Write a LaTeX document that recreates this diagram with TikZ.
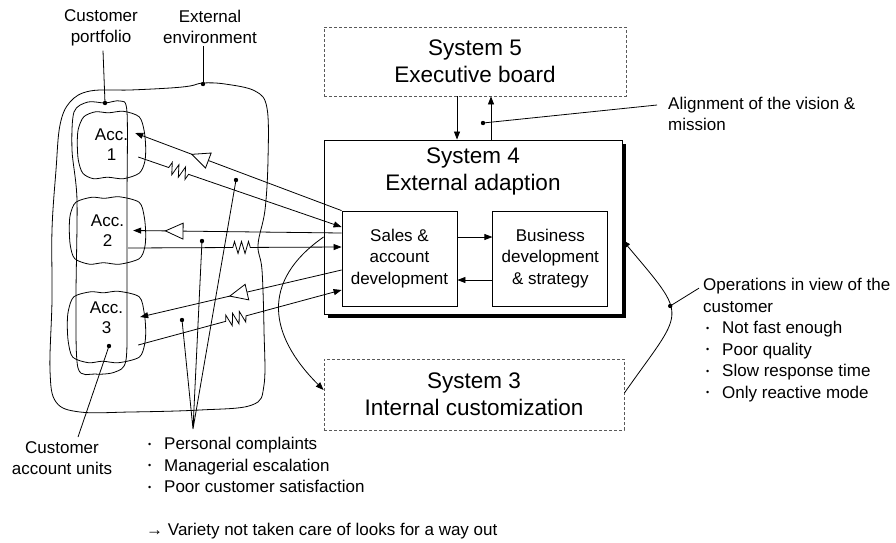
\documentclass[tikz,border=0pt]{standalone}
\usepackage{fontspec}
\setmainfont{Liberation Sans}
\usetikzlibrary{positioning, arrows.meta, calc, shadows, decorations.pathmorphing, decorations.markings}

\newcommand{\bul}{\makebox[19pt][l]{\hspace{3pt}\raisebox{2.5pt}{\fontsize{9}{9}\selectfont\textbullet}}}

\tikzset{
    txt/.style = {inner sep=0pt, align=center, font=\fontsize{17}{21.5}\selectfont},
    sysbox/.style = {
        draw=gray!70!black,
        dash pattern=on 3pt off 2pt,
        line width=0.8pt,
        align=center,
        font=\fontsize{22.5}{27}\selectfont
    },
    mainbox/.style = {draw, line width=0.9pt, fill=white,
        drop shadow={shadow xshift=4pt, shadow yshift=-4pt, fill=black, opacity=1}},
    innerbox/.style = {
        draw,
        line width=0.8pt,
        align=center,
        minimum width=115pt,
        minimum height=95pt,
        font=\fontsize{17}{21.5}\selectfont
    },
    accbox/.style = {
        align=center,
        minimum height=66pt,
        font=\fontsize{17}{20}\selectfont
    },
    blob/.style = {line width=0.8pt},
    lead/.style = {line width=0.8pt},
    arrow/.style = {-{Triangle[length=8pt, width=6pt]}, line width=0.8pt},
    fback/.style = {arrow, postaction={decorate},
        decoration={markings, mark=at position #1 with {\arrow{Triangle[length=19pt, width=17pt, fill=white]}}}},
    resist/.style = {decoration={zigzag, segment length=7pt, amplitude=6pt}}
}

\begin{document}
\begin{tikzpicture}[x=1pt, y=-1pt]
\useasboundingbox (0,0) rectangle (896,542);

% Labels on the left
\node[txt] (portlbl) at (101,28) {Customer\\portfolio};
\node[txt] (envlbl) at (210,27) {External\\environment};
\node[txt] (unitlbl) at (62,458) {Customer\\account units};

% External environment and customer portfolio
\draw[blob] plot[smooth cycle, tension=0.6] coordinates {
    (70,102) (90,91) (130,90) (170,88) (190,86) (203,83) (225,84) (255,91)
    (267,108) (268,160) (265,210) (258,245) (262,270) (264,330) (264,385)
    (252,405) (200,410) (130,412) (80,412) (56,402) (50,370) (52,300)
    (52,230) (56,170) (60,125)};
\draw[blob] plot[smooth cycle, tension=0.5] coordinates {
    (74,112) (88,102) (105,103) (120,101) (127,112) (127,200) (127,300)
    (126,360) (115,372) (95,374) (78,368) (76,300) (77,200) (72,150)};

\coordinate (envdot) at (203,84);
\coordinate (portdot) at (105,103);
\coordinate (accdot) at (109,346);

% Accounts
\node[accbox, minimum width=67pt] (acc1) at (111.5,145) {Acc.\\1};
\node[accbox, minimum width=75pt] (acc2) at (107.5,230.5) {Acc.\\2};
\node[accbox, minimum width=77pt, minimum height=70pt, text depth=18pt] (acc3) at (106.5,327) {Acc.\\3};

\foreach \a in {acc1, acc2, acc3}
    \draw[blob] plot[smooth cycle, tension=0.5] coordinates {
        ($(\a.north west)+(6,5)$) ($(\a.north)+(-16,0)$) ($(\a.north)+(-3,1)$)
        ($(\a.north)+(12,-0.5)$) ($(\a.north east)+(-6,5)$) ($(\a.east)+(-1,-14)$)
        ($(\a.east)+(0.5,3)$) ($(\a.east)+(-0.5,17)$) ($(\a.south east)+(-6,-5)$)
        ($(\a.south)+(12,0.5)$) ($(\a.south)+(-4,-1)$) ($(\a.south)+(-18,0.5)$)
        ($(\a.south west)+(5,-5)$) ($(\a.west)+(0.5,15)$) ($(\a.west)+(-0.5,-2)$)
        ($(\a.west)+(0.5,-16)$)};

% System 5
\node[sysbox, minimum width=302pt, minimum height=69pt] (sys5) at (475,61.5) {System 5\\Executive board};

% System 4
\node[mainbox, minimum width=298pt, minimum height=174pt] (sys4) at (473,227) {};
\node[sysbox, draw=none, inner sep=0pt, below=8pt of sys4.north] (sys4t) {System 4\\External adaption};
\node[innerbox] (sales) at (399.5,258.5) {Sales \&\\account\\development};
\node[innerbox, right=35pt of sales] (biz) {Business\\development\\\& strategy};

\draw[arrow] ([yshift=21.5pt]sales.east) -- ([yshift=21.5pt]biz.west);
\draw[arrow] ([yshift=-21.5pt]biz.west) -- ([yshift=-21.5pt]sales.east);

% System 3
\node[sysbox, minimum width=300pt, minimum height=71pt] (sys3) at (474,394.5) {System 3\\Internal customization};

% 5 <-> 4
\draw[arrow] ([xshift=-18pt]sys5.south) -- ([xshift=-18pt]sys5.south |- sys4.north);
\draw[arrow] ([xshift=16pt]sys5.south |- sys4.north) -- ([xshift=16pt]sys5.south);
\coordinate (aligndot) at (483,123);
\node[txt, anchor=west, align=left] (alignlbl) at (668,114) {Alignment of the vision \&\\mission};
\draw[lead] (aligndot) -- ($(alignlbl.west)+(-11,-9)$);

% loops 4 -> 3 and 3 -> 4
\draw[arrow] ([yshift=-10pt]sys4.west) to[out=215, in=135, looseness=1.3] ([yshift=4.5pt]sys3.west);
\draw[arrow] ([yshift=1.5pt]sys3.east) to[out=55, in=-50, looseness=1.75] coordinate[pos=0.58] (opsdot) ([yshift=-13pt]sys4.east);
\node[txt, anchor=west, align=left] (opslbl) at (703,340) {Operations in view of the\\customer\\\bul Not fast enough\\\bul Poor quality\\\bul Slow response time\\\bul Only reactive mode};
\draw[lead] (opsdot) -- ($(opslbl.north west)+(-4,10)$);

% Variety between accounts and sales
\coordinate (a1) at ($(acc1.east)+(-7,12)$);
\coordinate (s1) at ($(sales.west)+(0,-31.5)$);
\coordinate (a2) at ($(acc2.east)+(-17,17.5)$);
\coordinate (s2) at ($(sales.west)+(0,-11.5)$);
\coordinate (a3) at ($(acc3.east)+(-7,18)$);
\coordinate (s3) at ($(sales.west)+(0,31.5)$);

\draw[fback=0.73] (sales.north west) -- ($(acc1.east)+(-10,-12)$);
\draw[arrow] (a1) -- ($(a1)!0.15!(s1)$) decorate[resist]{-- ($(a1)!0.25!(s1)$)} -- (s1);

\draw[fback=0.85] ($(sales.west)+(0,-25.5)$) -- ($(acc2.east)+(-12,0)$);
\draw[arrow] (a2) -- ($(a2)!0.49!(s2)$) decorate[resist]{-- ($(a2)!0.585!(s2)$)} -- (s2);

\draw[fback=0.56] ($(sales.west)+(0,11.5)$) -- ($(acc3.east)+(-5,-10)$);
\draw[arrow] (a3) -- ($(a3)!0.43!(s3)$) decorate[resist]{-- ($(a3)!0.53!(s3)$)} -- (s3);

% Complaints
\node[txt, anchor=west, align=left] (compl) at (145,465) {\bul Personal complaints\\\bul Managerial escalation\\\bul Poor customer satisfaction};
\node[txt, anchor=west] (variety) at (146,531) {→ Variety not taken care of looks for a way out};

\coordinate (conv) at (193,429);
\coordinate (d1) at (236,180);
\coordinate (d2) at (202,241);
\coordinate (d3) at (182,320);
\draw[lead] (conv) -- (d1) (conv) -- (d2) (conv) -- (d3);

% Leaders to the labels
\draw[lead] ($(portlbl.south)+(2,4)$) -- (portdot);
\draw[lead] ($(envlbl.south)+(-7,2)$) -- (envdot);
\draw[lead] ($(unitlbl.north)+(16,-4)$) -- (accdot);

\foreach \d in {d1, d2, d3, envdot, portdot, accdot, aligndot, opsdot}
    \fill (\d) circle (2.2pt);

\end{tikzpicture}
\end{document}
